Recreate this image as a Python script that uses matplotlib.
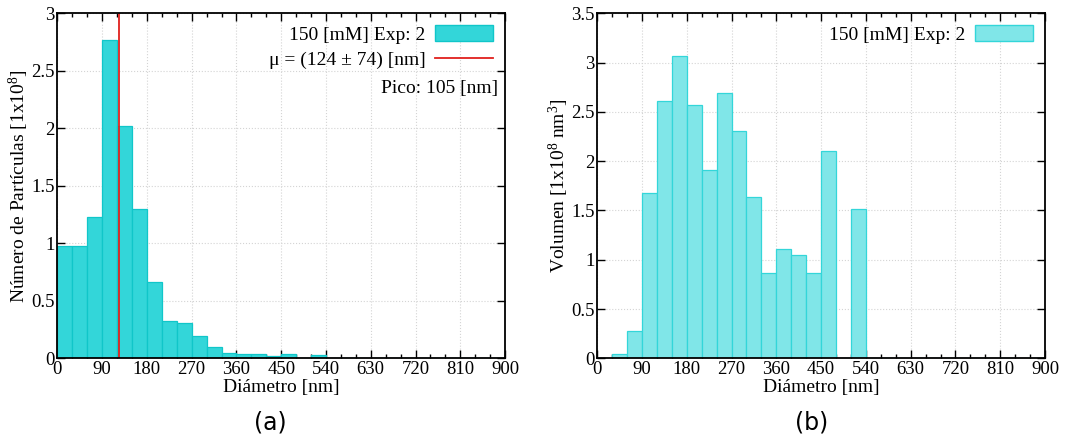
import numpy as np
import matplotlib
matplotlib.use("Agg")
import matplotlib.pyplot as plt
from matplotlib.ticker import MultipleLocator
from matplotlib.lines import Line2D
from matplotlib.patches import Patch

plt.rcParams['font.family'] = ['Liberation Serif', 'DejaVu Serif']
plt.rcParams['mathtext.fontset'] = 'custom'
plt.rcParams['mathtext.rm'] = 'Liberation Serif'
plt.rcParams['mathtext.it'] = 'Liberation Serif'

# bordes de los bins (30 nm)
bin_edges = np.arange(0, 930, 30)

# numero de particulas [1x10^8] por bin
numero = [0.98, 0.98, 1.23, 2.77, 2.02, 1.30, 0.66, 0.32, 0.31, 0.19,
          0.10, 0.045, 0.04, 0.035, 0.02, 0.04, 0.005, 0.025, 0, 0,
          0, 0, 0, 0, 0, 0, 0, 0, 0, 0]

# volumen [1x10^8 nm^3] por bin
volumen = [0, 0.045, 0.275, 1.68, 2.61, 3.07, 2.57, 1.91, 2.69, 2.31,
           1.64, 0.865, 1.105, 1.05, 0.865, 2.105, 0, 1.515, 0, 0,
           0, 0, 0, 0, 0, 0, 0, 0, 0, 0]

media = 124
desv = 74
pico = 105
etiqueta = "150 [mM] Exp: 2"

fig = plt.figure(figsize=(10.78, 4.38), dpi=100)
ax1 = fig.add_axes([0.0532, 0.182, 0.4153, 0.7876])
ax2 = fig.add_axes([0.554, 0.182, 0.4154, 0.7876])


def estilo(ax, ymax, ystep):
  ax.set_xlim(0, 900)
  ax.set_ylim(0, ymax)
  ax.xaxis.set_major_locator(MultipleLocator(90))
  ax.xaxis.set_minor_locator(MultipleLocator(30))
  ax.yaxis.set_major_locator(MultipleLocator(ystep))
  ax.tick_params(which='both', direction='in', top=True, right=True,
                 labelsize=13.5, pad=2)
  ax.tick_params(which='major', length=6, width=1)
  ax.tick_params(which='minor', length=3, width=1)
  ax.grid(True, which='major', linestyle=':', color='#d4d4d4', linewidth=0.8)
  ax.set_axisbelow(True)
  for s in ax.spines.values():
    s.set_linewidth(1.3)
  ax.set_xlabel("Diámetro [nm]", fontsize=14, labelpad=0.5)
  ax.yaxis.set_major_formatter(
    matplotlib.ticker.FuncFormatter(lambda v, p: f"{v:g}"))


centros = bin_edges[:-1]
ax1.bar(centros, numero, width=30, align='edge', color='#33d6d9',
        edgecolor='#10c6c9', linewidth=0.9)
ax1.axvline(media, color='#e0201c', linewidth=1.3)
estilo(ax1, 3, 0.5)
ax1.set_ylabel("Número de Partículas [1x10$^8$]", fontsize=14, labelpad=0)
h1 = [Patch(facecolor='#33d6d9', edgecolor='#10c6c9'),
      Line2D([], [], color='#e0201c', linewidth=1.3)]
l1 = [etiqueta, f"μ = ({media} ± {desv}) [nm]"]
ax1.legend(h1, l1, loc='upper right', frameon=False, markerfirst=False,
           fontsize=14, handlelength=3.0, handleheight=0.9,
           borderaxespad=0.2, labelspacing=0.35, handletextpad=0.5)
ax1.text(0.985, 0.782, f"Pico: {pico} [nm]", transform=ax1.transAxes,
         ha='right', va='center', fontsize=14)

ax2.bar(centros, volumen, width=30, align='edge', color='#80e6e8',
        edgecolor='#33d6d9', linewidth=0.9)
estilo(ax2, 3.5, 0.5)
ax2.set_ylabel("Volumen [1x10$^8$ nm$^3$]", fontsize=14, labelpad=0)
h2 = [Patch(facecolor='#80e6e8', edgecolor='#33d6d9')]
ax2.legend(h2, [etiqueta], loc='upper right', frameon=False, markerfirst=False,
           fontsize=14, handlelength=3.0, handleheight=0.9,
           borderaxespad=0.2, handletextpad=0.5)

fig.text(0.2505, 0.02, "(a)", family='DejaVu Sans', fontsize=17, ha='center')
fig.text(0.753, 0.02, "(b)", family='DejaVu Sans', fontsize=17, ha='center')

fig.savefig("out.png", dpi=100)
